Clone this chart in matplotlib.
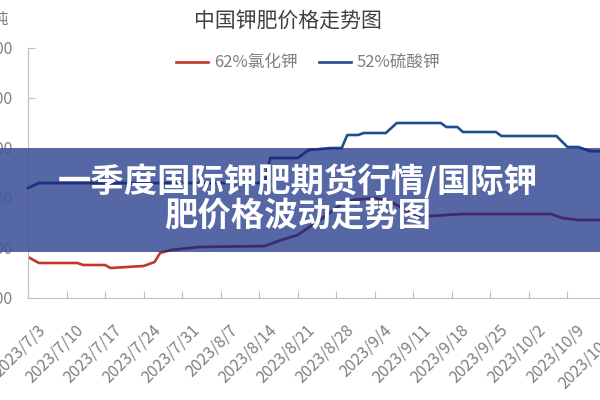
import matplotlib
matplotlib.use("Agg")
import matplotlib.pyplot as plt
import matplotlib.transforms as mtransforms
from matplotlib.patches import Rectangle
import pandas as pd

plt.rcParams['font.family'] = ['Noto Sans CJK SC', 'DejaVu Sans']

# 62%氯化钾 (元/吨)
kcl_dates = ["2023/7/3", "2023/7/5", "2023/7/12", "2023/7/13", "2023/7/17", "2023/7/18",
             "2023/7/21", "2023/7/24", "2023/7/26", "2023/7/27", "2023/7/29", "2023/8/3",
             "2023/8/15", "2023/8/18", "2023/8/21", "2023/8/25", "2023/8/29", "2023/8/31",
             "2023/9/4", "2023/9/7", "2023/9/9", "2023/9/11", "2023/9/14", "2023/9/20",
             "2023/10/6", "2023/10/8", "2023/10/11", "2023/10/19"]
kcl_values = [2410, 2350, 2350, 2330, 2330, 2300,
              2310, 2320, 2360, 2450, 2480, 2510,
              2520, 2580, 2630, 2780, 2940, 2980,
              3000, 2960, 2900, 2830, 2820, 2840,
              2840, 2800, 2780, 2780]

# 52%硫酸钾
sop_dates = ["2023/7/3", "2023/7/5", "2023/8/15", "2023/8/16", "2023/8/21", "2023/8/23",
             "2023/8/27", "2023/8/29", "2023/8/30", "2023/9/1", "2023/9/2", "2023/9/6",
             "2023/9/8", "2023/9/16", "2023/9/17", "2023/9/19", "2023/9/20", "2023/9/26",
             "2023/9/27", "2023/10/7", "2023/10/9", "2023/10/11", "2023/10/13", "2023/10/19"]
sop_values = [3100, 3150, 3150, 3400, 3400, 3480,
              3500, 3500, 3630, 3630, 3650, 3650,
              3750, 3750, 3710, 3710, 3660, 3660,
              3620, 3620, 3510, 3510, 3470, 3460]

tick_labels = ["2023/7/3", "2023/7/10", "2023/7/17", "2023/7/24", "2023/7/31", "2023/8/7",
               "2023/8/14", "2023/8/21", "2023/8/28", "2023/9/4", "2023/9/11", "2023/9/18",
               "2023/9/25", "2023/10/2", "2023/10/9", "2023/10/16"]
y_ticks = [2000, 2500, 3000, 3500, 4000, 4500]

fmt = "%Y/%m/%d"
kx = pd.to_datetime(kcl_dates, format=fmt)
sx = pd.to_datetime(sop_dates, format=fmt)
tx = pd.to_datetime(tick_labels, format=fmt)

red = '#c0392b'
blue = '#1f4e8c'
grey = '#bfbfbf'

fig = plt.figure(figsize=(6, 4), dpi=100)
ax = fig.add_axes([28 / 600, 102 / 400, 600 / 600, 250 / 400])

ax.plot(kx, kcl_values, color=red, lw=1.9, label="62%氯化钾", zorder=2)
ax.plot(sx, sop_values, color=blue, lw=1.9, label="52%硫酸钾", zorder=2)

ax.set_xlim(pd.Timestamp("2023-07-03"), pd.Timestamp("2023-10-20"))
ax.set_ylim(2000, 4500)
ax.set_xticks(tx)
ax.set_xticklabels(tick_labels, rotation=45, ha='right', va='top', rotation_mode='anchor')
ax.set_yticks(y_ticks)
ax.set_yticklabels([str(v) for v in y_ticks])
ax.tick_params(axis='both', direction='in', length=5, color=grey, labelcolor='#7f7f7f', labelsize=11.5)
ax.tick_params(axis='x', pad=17)
ax.tick_params(axis='y', pad=11)
shift = mtransforms.ScaledTranslation(6 / 72, 0, fig.dpi_scale_trans)
for lab in ax.get_xticklabels():
    lab.set_transform(lab.get_transform() + shift)
for s in ['top', 'right']:
    ax.spines[s].set_visible(False)
for s in ['left', 'bottom']:
    ax.spines[s].set_color(grey)
ax.patch.set_alpha(0)

fig.text(0.48, 0.9475, "中国钾肥价格走势图", ha='center', va='center', fontsize=15, color='#404040')
fig.text(9 / 600, 1 - 19 / 400, "元/吨", ha='right', va='center', fontsize=11, color='#7f7f7f')
fig.legend(loc='center', bbox_to_anchor=(0.514, 1 - 63 / 400), ncol=2, frameon=False,
           fontsize=12, handlelength=1.9, handletextpad=0.35, columnspacing=1.3,
           labelcolor='#7f7f7f')

# banner across the middle
band = Rectangle((0, 148 / 400), 1, 104 / 400, transform=fig.transFigure,
                 facecolor='#44569d', alpha=0.9, edgecolor='none', clip_on=False, zorder=3)
ax.add_patch(band)
l1, = ax.plot(kx, kcl_values, color='#3d2b6b', lw=1.9, zorder=4)
l2, = ax.plot(sx, sop_values, color='#1c3280', lw=1.9, zorder=4)
l1.set_clip_path(band)
l2.set_clip_path(band)

ax.text(0.497, 1 - 182 / 400, "一季度国际钾肥期货行情/国际钾", transform=fig.transFigure,
        ha='center', va='center', fontsize=24, fontweight='black', color='white', zorder=5)
ax.text(0.497, 1 - 216 / 400, "肥价格波动走势图", transform=fig.transFigure,
        ha='center', va='center', fontsize=24, fontweight='black', color='white', zorder=5)

fig.savefig("out.png", dpi=100)
